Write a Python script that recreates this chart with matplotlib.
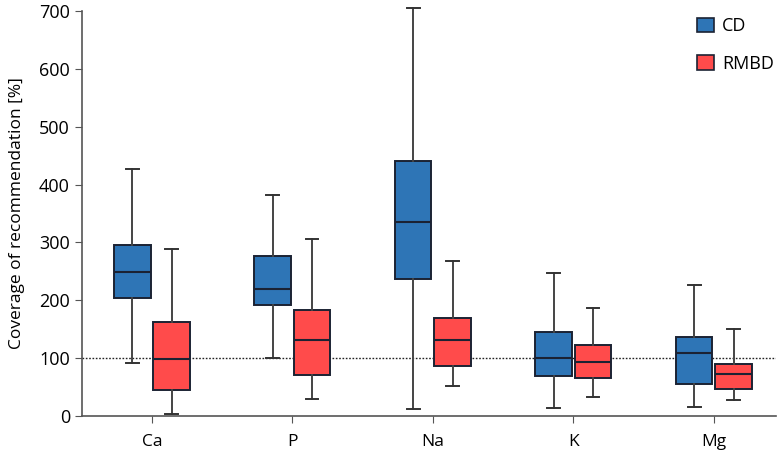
import matplotlib
matplotlib.use("Agg")
import matplotlib.pyplot as plt
from matplotlib.patches import Patch

plt.rcParams['font.family'] = ['Open Sans', 'DejaVu Sans']

# minerals and groups
categories = ["Ca", "P", "Na", "K", "Mg"]
groups = ["CD", "RMBD"]
colors = {"CD": "#2E75B6", "RMBD": "#FF4B4B"}

# box statistics: whislo, q1, median, q3, whishi
cd_whislo = [92, 100, 12, 13, 16]
cd_q1 = [203, 191, 236, 69, 55]
cd_med = [249, 219, 335, 100, 109]
cd_q3 = [295, 276, 441, 145, 136]
cd_whishi = [426, 382, 706, 247, 226]

rmbd_whislo = [3, 30, 51, 32, 27]
rmbd_q1 = [44, 71, 86, 66, 47]
rmbd_med = [98, 131, 131, 93, 73]
rmbd_q3 = [162, 183, 169, 123, 89]
rmbd_whishi = [289, 305, 267, 186, 151]

recommendation = 100

fig = plt.figure(figsize=(7.78, 4.58), dpi=100)
ax = fig.add_axes([0.105, 0.092, 0.892, 0.884])

def make_stats(lo, q1, med, q3, hi):
    return [dict(whislo=a, q1=b, med=c, q3=d, whishi=e, fliers=[])
            for a, b, c, d, e in zip(lo, q1, med, q3, hi)]

series = {
    "CD": make_stats(cd_whislo, cd_q1, cd_med, cd_q3, cd_whishi),
    "RMBD": make_stats(rmbd_whislo, rmbd_q1, rmbd_med, rmbd_q3, rmbd_whishi),
}
offsets = {"CD": -0.14, "RMBD": 0.14}

ax.axhline(recommendation, color="#222222", lw=1.0, ls=(0, (1.2, 1.2)), zorder=1)

for g in groups:
    pos = [i + offsets[g] for i in range(len(categories))]
    bp = ax.bxp(series[g], positions=pos, widths=0.26, patch_artist=True,
                showfliers=False, capwidths=0.09,
                boxprops=dict(facecolor=colors[g], edgecolor="#1b2233", lw=1.4),
                medianprops=dict(color="#1b2233", lw=1.5),
                whiskerprops=dict(color="#444444", lw=1.4),
                capprops=dict(color="#333333", lw=1.4),
                manage_ticks=False, zorder=2)
    # Na whisker goes slightly past the top of the axis
    for key in ["whiskers", "caps"]:
        for art in bp[key]:
            art.set_clip_on(False)

ax.set_xticks(range(len(categories)))
ax.set_xticklabels(categories, fontsize=12.5)
ax.set_xlim(-0.5, 4.44)
ax.set_ylim(0, 700)
ax.set_yticks(range(0, 701, 100))
ax.tick_params(axis="y", labelsize=13, length=5, color="#555555")
ax.tick_params(axis="x", length=5, color="#555555", pad=8)
ax.set_ylabel("Coverage of recommendation [%]", fontsize=12.5, labelpad=10)

for s in ["top", "right"]:
    ax.spines[s].set_visible(False)
for s in ["left", "bottom"]:
    ax.spines[s].set_color("#555555")
    ax.spines[s].set_linewidth(1.2)

handles = [Patch(facecolor=colors[g], edgecolor="#1b2233", lw=1.2) for g in groups]
ax.legend(handles, groups, loc="upper left", frameon=False, fontsize=13,
          handlelength=0.95, handleheight=0.85, labelspacing=1.1,
          handletextpad=0.45, borderpad=0, borderaxespad=0,
          bbox_to_anchor=(0.886, 0.985))

fig.savefig("out.png", dpi=100)
